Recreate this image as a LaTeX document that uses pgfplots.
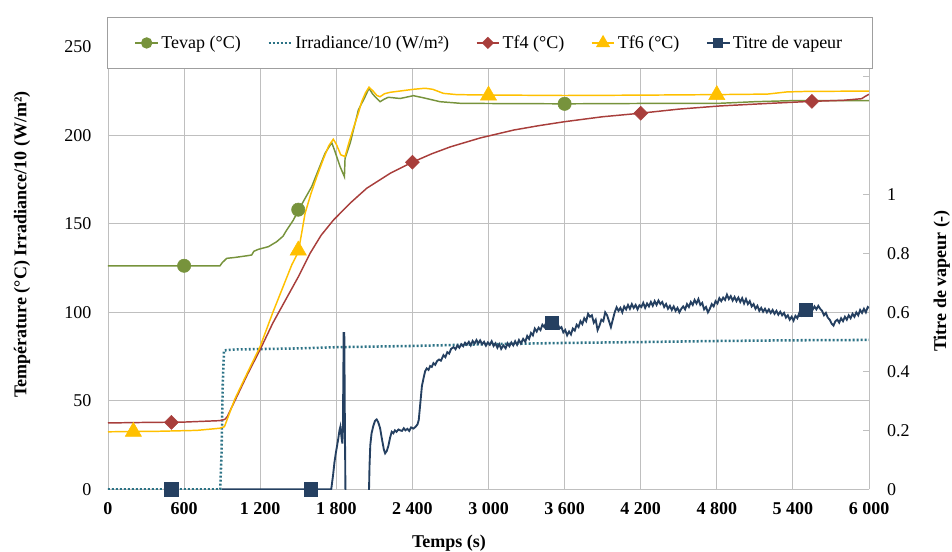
\documentclass[border=0pt]{standalone}
\usepackage{pgfplots}
\pgfplotsset{compat=1.18}
\usepackage{fontspec}
\setmainfont{Liberation Serif}
\definecolor{cgreen}{HTML}{77933C}
\definecolor{cteal}{HTML}{2B7285}
\definecolor{cred}{HTML}{A83E3B}
\definecolor{cyellow}{HTML}{FFC000}
\definecolor{cnavy}{HTML}{254061}
\definecolor{cgrid}{HTML}{BFBFBF}
\begin{document}
\begin{tikzpicture}[font=\fontsize{13.5}{16}\selectfont]
\path[use as bounding box] (-81pt,-47pt) rectangle (633pt,367pt);
\begin{axis}[
 scale only axis, width=570.75pt, height=331.875pt,
 xmin=0, xmax=6000, ymin=0, ymax=250,
 xtick={0,600,...,6000}, ytick={0,50,...,250},
 axis x line*=bottom, axis y line*=left,
 axis line style={draw=cgrid, line width=0.7pt, -},
 major tick length=0pt,
 grid=major, major grid style={draw=cgrid, line width=0.7pt},
 /pgf/number format/assume math mode=true,
 /pgf/number format/1000 sep={\ },
 xticklabel style={font=\fontsize{13.5}{16}\selectfont\bfseries, yshift=-6pt},
 yticklabel style={xshift=-9pt},
 every axis x label/.style={at={(rel axis cs:0.448,-0.121)}, anchor=center},
 every axis y label/.style={at={(rel axis cs:-0.113,0.553)}, anchor=center, rotate=90},
 xlabel={\textbf{Temps (s)}},
 ylabel={\textbf{Température (°C) Irradiance/10 (W/m²)}},
]
% Irradiance/10
\addplot[cteal, line width=1.9pt, dash pattern=on 1.4pt off 1.6pt] coordinates {
(0,0) (885,0) (895,20) (905,60) (915,78.5) (1000,79) (1500,79.6) (1800,80.3) (2400,81) (3000,82) (3600,82.7) (4200,83.2) (4800,83.8) (5400,84.2) (6000,84.4)};
% Tevap
\addplot[cgreen, line width=1.1pt] coordinates {
(0,126.3) (883,126.3) (900,128) (936,130.5) (1000,131) (1100,132) (1133,132.4) (1150,134.5) (1186,135.6) (1265,137.1) (1330,139.9) (1380,143) (1409,146.5) (1462,152.2) (1500,157.5) (1606,171) (1711,189.8) (1764,195.9) (1790,190.8) (1830,182.3) (1864,176.6) (1869,187) (1909,195.5) (1974,214.3) (2027,221.8) (2058,226.6) (2085,223.5) (2106,221.8) (2145,219) (2180,220.5) (2211,221.5) (2303,220.8) (2408,222.4) (2487,221.2) (2618,219) (2776,218.1) (2934,218) (3600,217.8) (4200,218) (4825,218.1) (5100,219) (5400,219.6) (6000,219.6)};
\addplot[cgreen, only marks, mark=*, mark size=5pt] coordinates {(600,126.3) (1500,158) (3600,217.8)};
% Tf4
\addplot[cred, line width=1.1pt] coordinates {
(0,37.5) (300,37.8) (600,38) (880,38.8) (920,39.5) (940,41) (1000,50) (1100,65) (1200,79) (1300,94) (1400,107) (1500,120) (1593,133.3) (1680,143.5) (1776,152) (1908,161.6) (2040,170.1) (2224,178.5) (2400,184.8) (2550,189.5) (2700,193.5) (2934,198.5) (3200,203) (3400,205.5) (3600,207.7) (3900,210.5) (4200,212.5) (4500,214.8) (4825,216.6) (5200,218) (5550,219.2) (5800,219.8) (5942,220.7) (5970,222) (6000,223.2)};
\addplot[cred, only marks, mark=square*, mark size=3.7pt, mark options={rotate=45}] coordinates {(500,37.8) (2400,184.8) (4200,212.5) (5550,219.2)};
% Tf6
\addplot[cyellow, line width=1.1pt] coordinates {
(0,32.5) (400,32.8) (700,33.3) (880,34.5) (918,35.4) (1000,51) (1100,66) (1199,80.6) (1300,100) (1400,118) (1450,127) (1500,134) (1530,146) (1554,156) (1600,167) (1646,176.6) (1700,187) (1740,194) (1776,197.8) (1800,195) (1835,189) (1869,188) (1900,196) (1935,204) (1974,212.5) (2000,219) (2030,224) (2058,227.2) (2090,225) (2120,222.5) (2145,221.8) (2180,223.5) (2224,224.3) (2300,225) (2408,226) (2500,226.6) (2560,226) (2645,223.7) (2750,223) (2934,222.8) (3600,222.5) (4200,222.7) (4800,223) (5200,223.3) (5350,224.5) (5500,224.8) (6000,225)};
\addplot[cyellow, only marks, mark=triangle*, mark size=7pt] coordinates {(200,32.6) (1500,135) (3000,222.5) (4800,222.8)};
\end{axis}
\begin{axis}[
 scale only axis, width=570.75pt, height=331.875pt,
 xmin=0, xmax=6000, ymin=0, ymax=1.5,
 axis x line=none, axis y line*=right,
 axis line style={draw=cgrid, line width=0.7pt, -},
 ytick={0,0.2,0.4,0.6,0.8,1,1.2,1.4},
 yticklabels={0,0.2,0.4,0.6,0.8,1,{},{}},
 tick align=inside, major tick length=4.5pt,
 y tick style={draw=cgrid, line width=0.7pt},
 yticklabel style={xshift=10pt},
 every axis y label/.style={at={(rel axis cs:1.0955,0.471)}, anchor=center, rotate=90},
 ylabel={\textbf{Titre de vapeur (-)}},
 legend columns=5,
 legend image code/.code={\draw[mark repeat=2,mark phase=2,#1] plot coordinates {(0pt,0pt) (8.5pt,0pt) (17pt,0pt)};},
 legend style={at={(rel axis cs:0,1)}, anchor=north west, yshift=22.35pt, xshift=-0.75pt,
   draw=gray!75, fill=white, inner xsep=20.5pt, inner ysep=11.75pt,
   font=\fontsize{13.5}{16}\selectfont,
   /tikz/every even column/.append style={column sep=18pt}},
]
\addlegendimage{cgreen, line width=1.1pt, mark=*, mark size=3.7pt}
\addlegendentry{Tevap (°C)}
\addlegendimage{cteal, line width=1.9pt, dash pattern=on 1.4pt off 1.6pt}
\addlegendentry{Irradiance/10 (W/m²)}
\addlegendimage{cred, line width=1.1pt, mark=square*, mark size=2.7pt, mark options={rotate=45}}
\addlegendentry{Tf4 (°C)}
\addlegendimage{cyellow, line width=1.1pt, mark=triangle*, mark size=5pt}
\addlegendentry{Tf6 (°C)}
\addlegendimage{cnavy, line width=1.1pt, mark=square*, mark size=3.4pt}
\addlegendentry{Titre de vapeur}
\addplot[cnavy, line width=1.4pt, forget plot] coordinates {
(900,0) (1760,0) (1775,0.05) (1785,0.09) (1795,0.12) (1805,0.145) (1815,0.17) (1825,0.2) (1832,0.212) (1840,0.18) (1848,0.155) (1852,0.2) (1858,0.53) (1863,0.53) (1868,0.2) (1872,0) (1878,-0.05) (2050,-0.05) (2058,0)
(2062,0.08) (2068,0.15) (2078,0.19) (2092,0.215) (2105,0.232) (2118,0.237) (2130,0.228) (2145,0.208) (2160,0.17) (2175,0.135) (2185,0.122) (2198,0.13) (2211,0.148) (2224,0.175) (2237,0.195) (2250,0.19) (2262,0.2) (2275,0.195) (2290,0.203) (2303,0.2) (2318,0.198) (2332,0.207) (2345,0.2) (2360,0.205) (2375,0.198) (2390,0.21) (2408,0.206) (2425,0.212) (2440,0.22) (2450,0.235) (2462,0.29) (2475,0.35) (2487,0.375) (2500,0.4)
(2513,0.41) (2527,0.405) (2540,0.418) (2553,0.415) (2566,0.428) (2580,0.422) (2595,0.435) (2610,0.44) (2625,0.436) (2645,0.455) (2660,0.448) (2675,0.465) (2690,0.46) (2705,0.476) (2724,0.482) (2740,0.475) (2755,0.488) (2770,0.48) (2785,0.492) (2800,0.485) (2815,0.497) (2829,0.49) (2845,0.5) (2860,0.488) (2875,0.503) (2890,0.494) (2905,0.506) (2920,0.495) (2934,0.505) (2950,0.492) (2965,0.5) (2980,0.487) (2995,0.498) (3010,0.49)
(3025,0.502) (3040,0.486) (3055,0.495) (3070,0.48) (3085,0.492) (3100,0.476) (3117,0.488) (3135,0.478) (3150,0.495) (3165,0.485) (3180,0.498) (3195,0.488) (3210,0.502) (3225,0.49) (3240,0.506) (3255,0.494) (3273,0.51) (3290,0.5) (3305,0.52) (3320,0.51) (3335,0.53) (3350,0.522) (3365,0.545) (3380,0.535) (3395,0.548) (3410,0.54) (3425,0.558) (3440,0.55) (3455,0.566) (3470,0.556) (3485,0.572) (3500,0.562) (3515,0.57)
(3530,0.555) (3545,0.562) (3560,0.545) (3575,0.55) (3590,0.532) (3605,0.54) (3620,0.522) (3635,0.535) (3650,0.525) (3665,0.545) (3680,0.538) (3695,0.558) (3710,0.55) (3725,0.57) (3740,0.56) (3755,0.58) (3770,0.57) (3785,0.595) (3800,0.585) (3815,0.59) (3830,0.565) (3845,0.575) (3860,0.54) (3875,0.555) (3890,0.575) (3905,0.57) (3920,0.6) (3935,0.59) (3950,0.57) (3965,0.55) (3980,0.575) (3995,0.6)
(4010,0.617) (4025,0.605) (4040,0.615) (4055,0.6) (4070,0.62) (4085,0.61) (4100,0.625) (4115,0.612) (4130,0.628) (4145,0.615) (4160,0.625) (4175,0.61) (4190,0.624) (4205,0.618) (4220,0.632) (4235,0.615) (4250,0.63) (4265,0.62) (4280,0.635) (4295,0.622) (4310,0.638) (4325,0.625) (4340,0.64) (4355,0.628) (4370,0.635) (4385,0.618) (4400,0.628) (4415,0.612) (4430,0.622) (4445,0.608) (4460,0.62) (4475,0.605) (4490,0.615) (4505,0.6)
(4520,0.612) (4535,0.62) (4550,0.61) (4565,0.628) (4580,0.618) (4595,0.635) (4610,0.625) (4625,0.642) (4640,0.63) (4655,0.645) (4670,0.625) (4685,0.632) (4700,0.61) (4715,0.618) (4730,0.6) (4745,0.612) (4760,0.628) (4775,0.62) (4790,0.638) (4805,0.63) (4820,0.648) (4835,0.638) (4850,0.65) (4865,0.642) (4880,0.66) (4895,0.645) (4910,0.655) (4925,0.64) (4940,0.652) (4955,0.638) (4970,0.65) (4985,0.635) (5000,0.648)
(5015,0.63) (5030,0.645) (5045,0.628) (5060,0.638) (5075,0.62) (5090,0.628) (5105,0.612) (5120,0.622) (5135,0.605) (5150,0.615) (5165,0.602) (5180,0.612) (5195,0.6) (5210,0.61) (5225,0.598) (5240,0.608) (5255,0.595) (5270,0.605) (5285,0.592) (5300,0.602) (5315,0.59) (5330,0.598) (5345,0.582) (5360,0.59) (5375,0.575) (5390,0.585) (5405,0.572) (5420,0.588) (5435,0.58) (5450,0.598) (5465,0.59) (5480,0.608) (5495,0.6)
(5510,0.612) (5525,0.605) (5540,0.618) (5555,0.608) (5570,0.62) (5585,0.61) (5600,0.622) (5615,0.612) (5630,0.605) (5645,0.59) (5660,0.598) (5675,0.582) (5690,0.575) (5705,0.562) (5720,0.555) (5735,0.57) (5750,0.575) (5765,0.565) (5780,0.58) (5795,0.57) (5810,0.585) (5825,0.575) (5840,0.59) (5855,0.58) (5870,0.595) (5885,0.585) (5900,0.6) (5915,0.59) (5930,0.608) (5945,0.598) (5960,0.612) (5975,0.6) (5990,0.618) (6000,0.615)};
\addplot[cnavy, only marks, mark=square*, mark size=5pt, forget plot] coordinates {(500,0) (1600,0) (3500,0.565) (5500,0.608)};
\end{axis}
\end{tikzpicture}
\end{document}
